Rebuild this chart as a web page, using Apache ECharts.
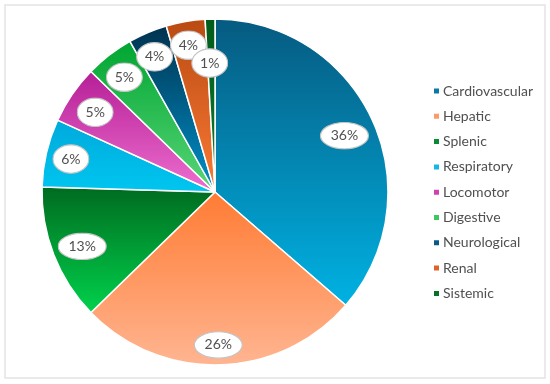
<!DOCTYPE html>
<html>
<head>
<meta charset="utf-8">
<script src="https://cdn.jsdelivr.net/npm/echarts@6/dist/echarts.min.js"></script>
<style>html,body{margin:0;padding:0;background:#fff}#c{width:550px;height:384px}</style>
</head>
<body>
<div id="c"></div>
<script>
// Data (counts; total 110, labels show rounded percentages)
var categories = ['Cardiovascular','Hepatic','Splenic','Respiratory','Locomotor','Digestive','Neurological','Renal','Sistemic'];
var values = [40, 29, 14, 7, 6, 5, 4, 4, 1];

// styles
var gradTop = ['#065a80','#ff7b33','#006a1f','#00a9dc','#b51e96','#00a531','#00324f','#b94a12','#005c1c'];
var gradBot = ['#00b2e3','#ffb591','#00d24c','#00c6f0','#ee6fcf','#5ad679','#0091c9','#fb7a35','#0f7a2c'];
var legendColors = ['#0a78a8','#ff9966','#0a8a35','#12b8e8','#d040b0','#3cc860','#0a5a88','#e0622a','#0a7028'];
var labelShift = [[-7,6],[-1,3],[7,0],[2,1],[4,5],[1,4],[-2,3],[-1,1],[-1,21]];

function ellipseImg(w,h){
  var svg = '<svg xmlns="http://www.w3.org/2000/svg" width="'+w+'" height="'+h+'" viewBox="0 0 '+w+' '+h+'">'+
    '<ellipse cx="'+(w/2)+'" cy="'+(h/2)+'" rx="'+(w/2-0.8)+'" ry="'+(h/2-0.8)+'" fill="#ffffff" stroke="#c4c4c4" stroke-width="1.2"/></svg>';
  return 'data:image/svg+xml;charset=utf-8,'+encodeURIComponent(svg);
}
var bigImg = ellipseImg(52,28), smallImg = ellipseImg(40,30);

var chart = echarts.init(document.getElementById('c'), null, {renderer:'canvas'});
var FONT = 'Lato, "Open Sans", sans-serif';

function grad(i){
  return new echarts.graphic.LinearGradient(0,0,0,1,[{offset:0,color:gradTop[i]},{offset:1,color:gradBot[i]}]);
}
var mainData = categories.map(function(n,i){return {name:n, value:values[i], itemStyle:{color:grad(i)}};});
var labelData = categories.map(function(n,i){
  var big = i < 3;
  return {name:n, value:values[i], label:{
    backgroundColor:{image: big ? bigImg : smallImg},
    padding: big ? [6,11] : [7,9]
  }};
});

chart.setOption({
  backgroundColor:'#ffffff',
  animation:false,
  graphic:[{type:'rect', shape:{x:5,y:5,width:540,height:373}, style:{fill:'none', stroke:'#e4e4e4', lineWidth:1.5}, silent:true}],
  legend:{
    orient:'vertical', left:427, top:78,
    itemWidth:7, itemHeight:7, itemGap:9.3,
    icon:'rect',
    data: categories.map(function(n,i){return {name:n, itemStyle:{color:legendColors[i]}};}),
    textStyle:{fontFamily:FONT, fontSize:14, color:'#505050', lineHeight:16, padding:[0,0,0,-2]}
  },
  series:[
    {
      type:'pie', center:[215,192], radius:[0,173], startAngle:90, clockwise:true,
      data: mainData, label:{show:false}, labelLine:{show:false},
      itemStyle:{borderColor:'#ffffff', borderWidth:1.5},
      emphasis:{disabled:true}
    },
    {
      type:'pie', center:[215,192], radius:[121,173], startAngle:90, clockwise:true,
      data: labelData, silent:true, percentPrecision:0,
      itemStyle:{color:'rgba(0,0,0,0)', borderWidth:0},
      emphasis:{disabled:true},
      label:{
        show:true, position:'inside',
        formatter:function(p){return Math.round(p.percent)+'%';},
        fontFamily:FONT, fontSize:14, color:'#505050', lineHeight:16,
        align:'center', verticalAlign:'middle'
      },
      labelLine:{show:false},
      labelLayout:function(p){var s=labelShift[p.dataIndex]; return {dx:s[0], dy:s[1]};}
    }
  ]
});
</script>
</body>
</html>
